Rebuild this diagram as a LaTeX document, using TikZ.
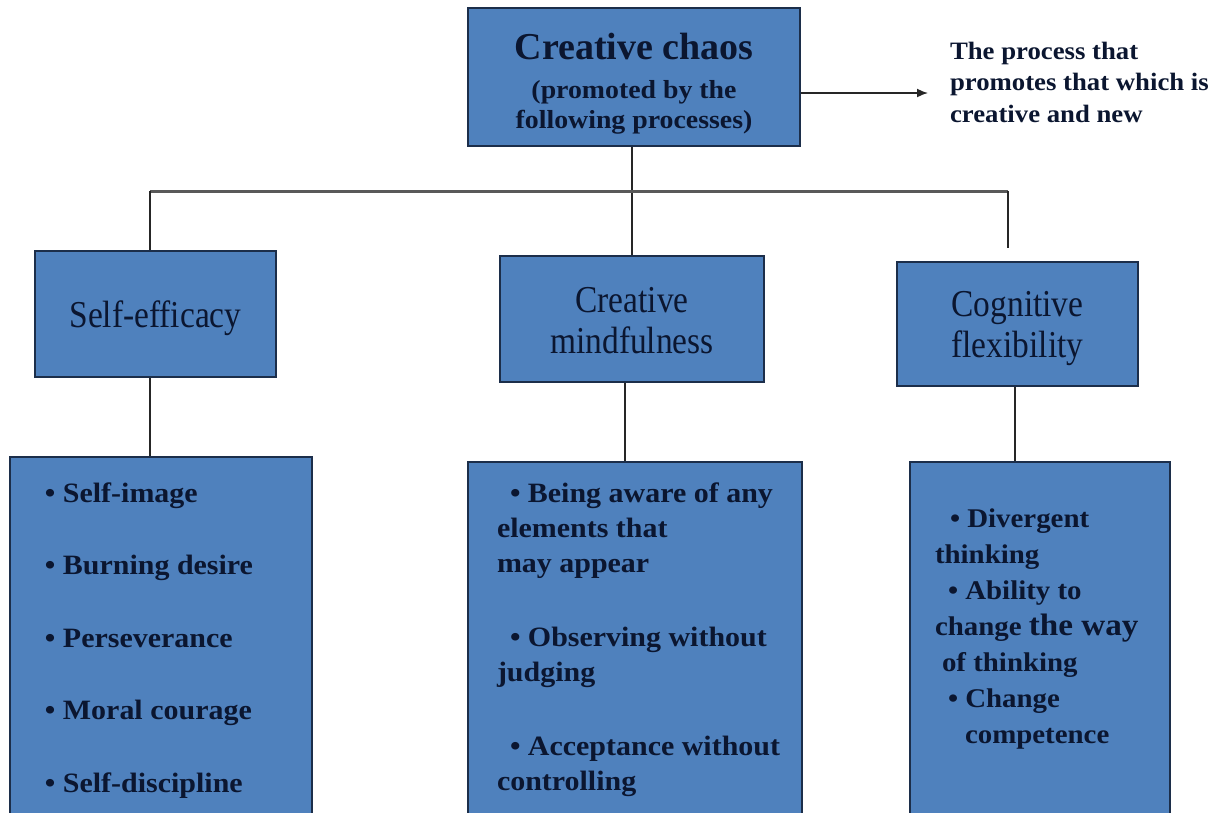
\documentclass[tikz,border=0pt]{standalone}
\usepackage{fontspec}
\setmainfont{Liberation Serif}
\newfontfamily\narrowserif[FakeStretch=0.88]{Liberation Serif}
\newfontfamily\wideserif[FakeStretch=1.07]{Liberation Serif}
\usetikzlibrary{arrows.meta}
\definecolor{boxfill}{HTML}{4F81BD}
\definecolor{boxedge}{HTML}{1C2E4A}
\definecolor{ink}{HTML}{0B1630}

\begin{document}
\begin{tikzpicture}[x=1pt,y=-1pt,
  panel/.style={draw=boxedge, line width=2pt, fill=boxfill, rectangle, inner sep=0pt},
  link/.style={draw=black!85, line width=1.6pt},
  trunk/.style={draw=black!65, line width=3pt},
  txt/.style={inner sep=0pt, outer sep=0pt, text=ink},
  heading/.style={txt, font=\narrowserif\fontsize{38}{41}\selectfont},
  listtxt/.style={txt, anchor=base west}]
\useasboundingbox (0,0) rectangle (1219,812);

% boxes
\node[panel, minimum width=332pt, minimum height=138pt] (top) at (634,77) {};
\node[panel, minimum width=241pt, minimum height=126pt] (se) at (155.5,314) {};
\node[panel, minimum width=264pt, minimum height=126pt] (cm) at (632,319) {};
\node[panel, minimum width=241pt, minimum height=124pt] (cf) at (1017.5,324) {};
\node[panel, minimum width=302pt, minimum height=360pt] (bl) at (161,637) {};
\node[panel, minimum width=334pt, minimum height=355pt] (bm) at (635,639.5) {};
\node[panel, minimum width=260pt, minimum height=355pt] (br) at (1040,639.5) {};

% tree connectors
\coordinate (barL) at (150,191);
\coordinate (barR) at (1008,191);
\coordinate (barRend) at (1008,248);
\coordinate (arrowend) at (928,93);
\draw[link] (cm.north) -- (cm.north |- top.south);
\draw[trunk] (barL) -- (barR);
\draw[link] (barL) -- (barL |- se.north);
\draw[link] (barR) -- (barRend);
\draw[link] (barL |- se.south) -- (barL |- bl.north);
\draw[link] ([xshift=-7pt]cm.south) -- ([xshift=-7pt]cm.south |- bm.north);
\draw[link] ([xshift=-2.5pt]cf.south) -- ([xshift=-2.5pt]cf.south |- br.north);
\draw[link, -{Latex[length=11pt,width=9pt]}] (top.east |- arrowend) -- (arrowend);

% top box text
\node[txt, anchor=base, font=\bfseries\fontsize{38}{44}\selectfont] (toptitle) at (634,59) {Creative chaos};
\node[txt, anchor=base, font=\wideserif\bfseries\fontsize{26}{30}\selectfont] (topsub) at (634,98)
  {\begin{tabular}[t]{@{}c@{}}(promoted by the\\ following processes)\end{tabular}};

% note beside the arrow
\node[listtxt, font=\wideserif\bfseries\fontsize{25}{31.5}\selectfont] (note) at (950,59)
  {\begin{tabular}[t]{@{}l@{}}The process that\\ promotes that which is\\ creative and new\end{tabular}};

% second level headings
\node[heading, anchor=base] (setext) at (155.5,327) {Self-efficacy};
\node[heading, anchor=base] (cmtext) at (632,312)
  {\begin{tabular}[t]{@{}c@{}}Creative\\ mindfulness\end{tabular}};
\node[heading, anchor=base] (cftext) at (1017.5,316)
  {\begin{tabular}[t]{@{}c@{}}Cognitive\\ flexibility\end{tabular}};

% lists
\node[listtxt, font=\wideserif\bfseries\fontsize{28}{72.5}\selectfont] (bltext) at (45,502)
  {\begin{tabular}[t]{@{}l@{}}• Self-image\\ • Burning desire\\ • Perseverance\\ • Moral courage\\ • Self-discipline\end{tabular}};
\node[listtxt, font=\wideserif\bfseries\fontsize{28}{35}\selectfont] (bmtext) at (497,502)
  {\begin{tabular}[t]{@{}l@{}}\hspace*{13pt}• Being aware of any\\ elements that\\ may appear\\[39pt]
   \hspace*{13pt}• Observing without\\ judging\\[39pt]
   \hspace*{13pt}• Acceptance without\\ controlling\end{tabular}};
\node[listtxt, font=\wideserif\bfseries\fontsize{27}{36}\selectfont] (brtext) at (935,527)
  {\begin{tabular}[t]{@{}l@{}}\hspace*{15pt}• Divergent\\ thinking\\ \hspace*{13pt}• Ability to\\
   change {\fontsize{31}{36}\selectfont the way}\\ \hspace*{7pt}of thinking\\
   \hspace*{13pt}• Change\\ \hspace*{30pt}competence\end{tabular}};
\end{tikzpicture}
\end{document}
